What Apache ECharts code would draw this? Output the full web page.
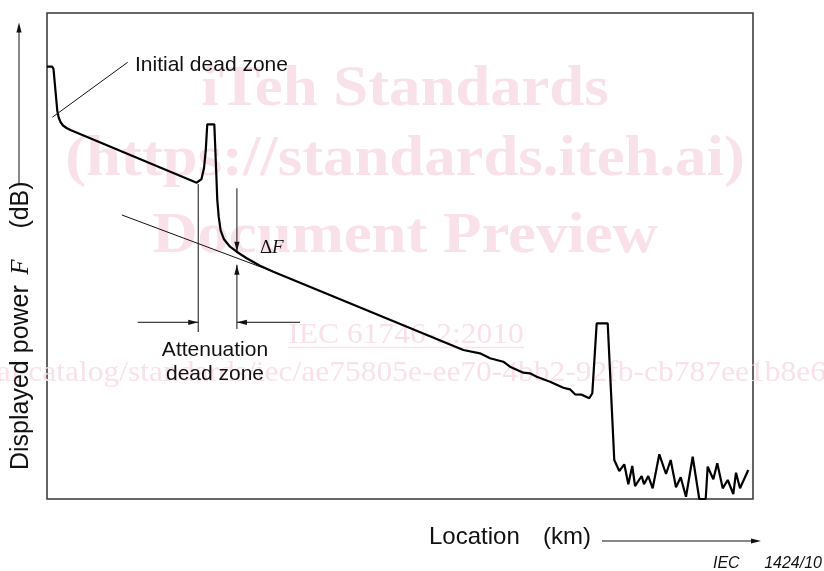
<!DOCTYPE html>
<html>
<head>
<meta charset="utf-8">
<script src="https://cdn.jsdelivr.net/npm/echarts/dist/echarts.min.js"></script>
<style>
  html, body { margin: 0; padding: 0; background: #fff; }
  #chart { width: 824px; height: 571px; }
</style>
</head>
<body>
<div id="chart"></div>
<script>
// OTDR trace. Both axes are unitless 0..100 (the figure has no ticks).
const traceX = [0, 0.75, 0.92, 1.46, 1.66, 1.91, 2.27, 2.76, 3.4,
  21.2, 21.35, 21.88, 22.24, 22.49, 22.7, 23.7,
  23.94, 24.12, 24.32, 24.6, 25.07, 25.92, 26.87, 28.29, 30.17, 32.06,
  58.97, 61.33, 62.75, 64.63, 65.58, 67.46, 68.41, 69.36, 71.25, 73.13,
  74.08, 74.79, 75.74, 76.81, 77.24, 77.86, 79.42, 80.35,
  81.06, 81.77, 82.34, 82.9, 83.29, 84.23, 84.56, 85.17, 85.79, 86.73,
  87.68, 88.34, 89.09, 89.76, 90.51, 91.46, 92.39, 93.3, 93.58, 94.38,
  94.94, 95.71, 96.42, 97.21, 97.59, 98.16, 99.33];
const traceY = [88.95, 88.95, 88.48, 79.84, 78.5, 77.57, 76.85, 76.34, 75.86,
  65.08, 64.92, 65.84, 68.11, 71.81, 77.1, 77.1,
  68.37, 61.52, 58.09, 55.21, 53.44, 51.91, 50.88, 49.53, 48.0, 46.77,
  30.66, 29.98, 28.95, 28.25, 27.22, 25.99, 25.86, 25.16, 24.14, 22.9,
  22.57, 21.54, 21.46, 20.72, 21.75, 36.15, 36.15, 8.02,
  5.76, 7.14, 3.02, 6.79, 2.67, 4.73, 3.02, 4.73, 2.2, 9.2,
  5.14, 8.02, 2.41, 4.47, 0.47, 8.7, 0, 0, 6.65, 4.05,
  7.35, 2.2, 3.91, 1.03, 5.41, 2.2, 5.97];

// annotation lines, in the same data units
const leaderLine = [[11.43, 89.86], [0.75, 78.54]];
const tangentLine = [[10.6, 58.44], [32.06, 46.77]];
const zoneStartEdge = [[21.42, 64.8], [21.42, 34.36]];
const deltaDown = [[26.9, 63.93], [26.9, 50.9]];
const deltaUp = [[26.9, 34.98], [26.9, 48.2]];
const zoneLeftArrow = [[12.85, 36.36], [21.42, 36.36]];
const zoneRightArrow = [[35.84, 36.36], [26.9, 36.36]];

const ink = '#111';
const pink = '#f9e1e9';
const sans = '"Liberation Sans", Arial, sans-serif';
const serif = '"Liberation Serif", "Times New Roman", serif';

const chart = echarts.init(document.getElementById('chart'));

chart.setOption({
  animation: false,
  grid: { left: 47, top: 13, right: 71, bottom: 72, show: true, borderColor: '#333', borderWidth: 1.5 },
  xAxis: { type: 'value', min: 0, max: 100, show: false },
  yAxis: { type: 'value', min: 0, max: 100, show: false },
  series: [{
    type: 'line',
    data: traceX.map((x, i) => [x, traceY[i]]),
    symbol: 'none',
    lineStyle: { color: '#000', width: 2.2 },
    z: 3
  }]
});

function text(str, x, y, font, fill, align, extra) {
  return Object.assign({
    type: 'text', x: x, y: y, z: 10,
    style: { text: str, font: font, fill: fill, textAlign: align, align: align,
      textVerticalAlign: 'middle', verticalAlign: 'middle' }
  }, extra || {});
}

function seg(a, b) {
  return { type: 'line', z: 8, shape: { x1: a[0], y1: a[1], x2: b[0], y2: b[1] },
    style: { stroke: ink, lineWidth: 1 } };
}

function head(from, tip) {
  const dx = tip[0] - from[0], dy = tip[1] - from[1];
  const d = Math.hypot(dx, dy);
  const ux = dx / d, uy = dy / d;
  const len = 10, half = 2.6;
  const bx = tip[0] - ux * len, by = tip[1] - uy * len;
  return { type: 'polygon', z: 8,
    shape: { points: [tip, [bx - uy * half, by + ux * half], [bx + uy * half, by - ux * half]] },
    style: { fill: ink } };
}

const toPx = p => chart.convertToPixel({ xAxisIndex: 0, yAxisIndex: 0 }, p);
const plain = pts => [seg(toPx(pts[0]), toPx(pts[1]))];
const arrow = pts => {
  const a = toPx(pts[0]), b = toPx(pts[1]);
  return [seg(a, b), head(a, b)];
};

const elements = [
  // watermark
  text('iTeh Standards', 405, 91, 'bold 56px ' + serif, pink, 'center', { z: 0, scaleX: 1.12 }),
  text('(https://standards.iteh.ai)', 405, 161, 'bold 56px ' + serif, pink, 'center', { z: 0, scaleX: 1.12 }),
  text('Document Preview', 405, 238, 'bold 56px ' + serif, pink, 'center', { z: 0, scaleX: 1.12 }),
  text('IEC 61746-2:2010', 406, 335, '30px ' + serif, pink, 'center', { z: 0, scaleX: 1.05 }),
  { type: 'line', z: 0, shape: { x1: 288, y1: 347.5, x2: 524, y2: 347.5 }, style: { stroke: pink, lineWidth: 1.5 } },
  text('h.ai/catalog/standards/iec/ae75805e-ee70-4bb2-92fb-cb787ee1b8e6', 826, 373, '30px ' + serif, pink, 'right', { z: 0, scaleX: 1.05 }),

  // y axis title with arrow
  text('Displayed power', 21, 470, '25px ' + sans, ink, 'left', { rotation: Math.PI / 2 }),
  text('F', 21, 267, 'italic 25px ' + serif, ink, 'center', { rotation: Math.PI / 2 }),
  text('(dB)', 21, 205, '25px ' + sans, ink, 'center', { rotation: Math.PI / 2 }),
  seg([19, 185], [19, 30]), head([19, 185], [19, 22.5]),

  // x axis title with arrow
  text('Location', 429, 537, '24px ' + sans, ink, 'left'),
  text('(km)', 543, 537, '24px ' + sans, ink, 'left'),
  seg([602, 541], [755, 541]), head([602, 541], [761, 541]),

  text('IEC', 713, 564, 'italic 16px ' + sans, ink, 'left'),
  text('1424/10', 822, 564, 'italic 16px ' + sans, ink, 'right'),

  // annotation labels
  text('Initial dead zone', 135, 65.4, '21px ' + sans, ink, 'left'),
  text('Attenuation', 215, 350, '21px ' + sans, ink, 'center'),
  text('dead zone', 215, 374.5, '21px ' + sans, ink, 'center'),
  text('\u0394', 260, 248, '19px ' + serif, ink, 'left'),
  text('F', 272, 248, 'italic 19px ' + serif, ink, 'left')
].concat(
  plain(leaderLine),
  plain(tangentLine),
  plain(zoneStartEdge),
  arrow(deltaDown),
  arrow(deltaUp),
  arrow(zoneLeftArrow),
  arrow(zoneRightArrow)
);

chart.setOption({ graphic: { elements: elements } });
</script>
</body>
</html>
